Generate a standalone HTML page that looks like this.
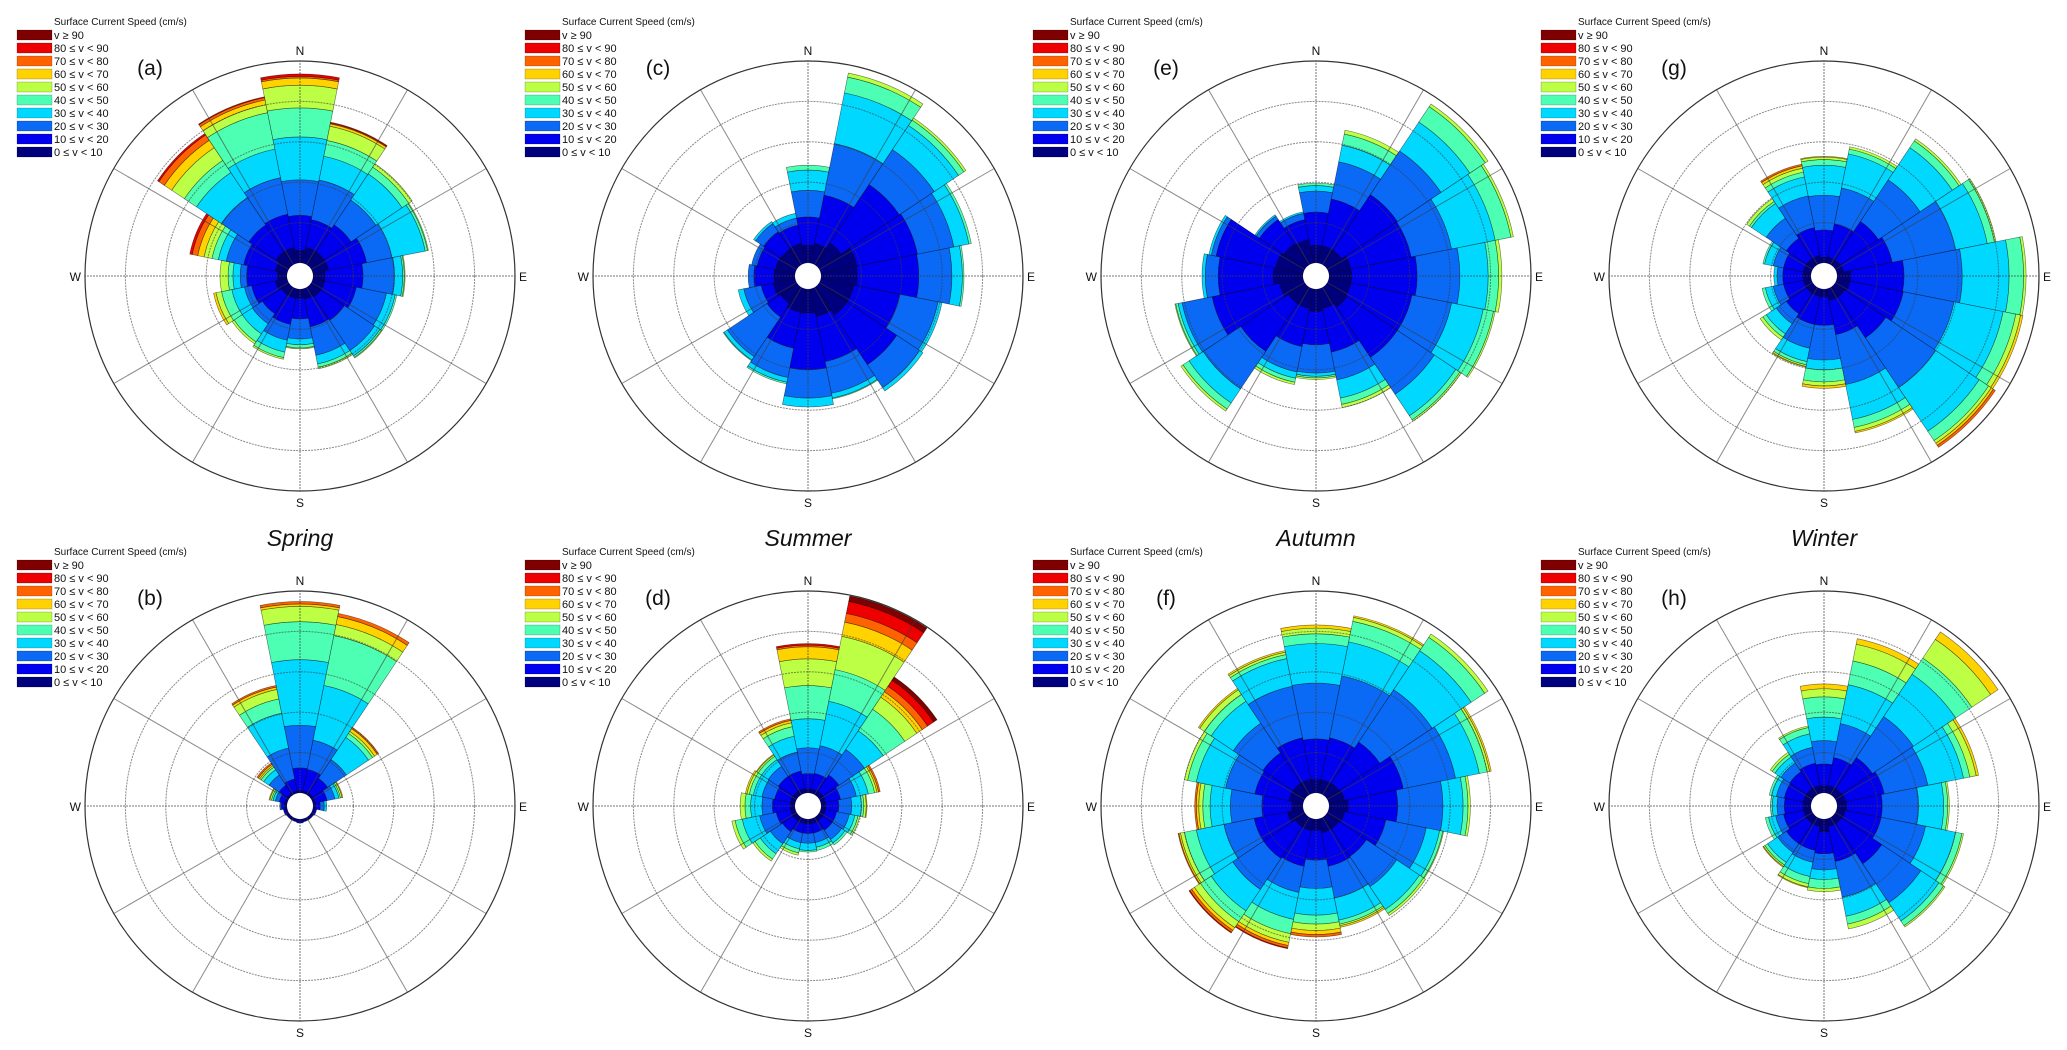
<!DOCTYPE html>
<html><head><meta charset="utf-8">
<style>
html,body{margin:0;padding:0;background:#fff;}
svg{display:block;}
text{font-family:"Liberation Sans",sans-serif;}
</style></head>
<body>
<svg id="fig" width="2067" height="1050" viewBox="0 0 2067 1050" xmlns="http://www.w3.org/2000/svg"></svg>
<script>
// Speed classes (low to high) and colours
const speedClasses = ["0 \u2264 v < 10","10 \u2264 v < 20","20 \u2264 v < 30","30 \u2264 v < 40","40 \u2264 v < 50","50 \u2264 v < 60","60 \u2264 v < 70","70 \u2264 v < 80","80 \u2264 v < 90","v \u2265 90"];
const classColors = ["#00007f","#0000ee","#0a6af5","#00d8ff","#4cffb2","#bcff44","#ffd200","#ff6200","#ee0000","#7f0000"];
const directions = ["N","NNE","NE","ENE","E","ESE","SE","SSE","S","SSW","SW","WSW","W","WNW","NW","NNW"];
const ringTicks = [5,10,15,20,25];
const panelLabels = ["(a)","(b)","(c)","(d)","(e)","(f)","(g)","(h)"];
const seasonTitles = ["Spring","Summer","Autumn","Winter"];
// cumulative frequency (%) per direction, per speed class
const panelA = [[1.6,5.9,10.3,15.6,19.2,22,22.9,23.1,23.4],[2,5.5,10.5,13.5,15.5,17.3,17.6,17.7,17.8],[2,6,9.7,13.6,14.6,15.1],[2,6.8,10,14.2,14.5,14.6],[1.5,6.2,10.1,11.1,11.3,11.4],[1.5,5.5,9.3,10.4,10.6],[1.5,5,9.5,10.3,10.5,10.6],[1.3,4.8,8.4,9.5,9.9,10.1],[1.2,3.7,6.2,6.9,7.3,7.4],[1.2,4.5,6.5,8,8.7,8.9],[1.2,4,5.5,7,8.2,8.5],[1.5,4.5,5.4,7,8.3,9,9.3],[1.2,5,5.8,6.7,7.3,8.3],[1.5,5.5,7.7,8.7,9.5,10.5,11.3,12,12.3],[2,6,10.1,13.8,15.6,17.5,18.6,19.4,19.6],[2,6.2,10.8,14.4,19,20,20.6,20.9,21]];
const panelB = [[0.3,3.1,8.4,16.5,21.2,23.1,23.4,23.7],[0.3,3,6.7,13.6,19.9,21.3,22.3,22.7],[0.3,2.5,5.3,8.6,9.2,9.5,9.9,10.1],[0.3,1.8,2.8,3.3,3.5,3.7,3.8],[0.3,0.9,1.4,1.7],[0.3,0.5],[0.3,0.4],[0.3,0.4],[0.3,0.5],[0.3,0.4],[0.3,0.4],[0.3,0.5],[0.3,0.7,0.9],[0.3,1,1.5,1.8,2,2.2,2.3],[0.3,1.5,3,3.8,4.2,4.4,4.6,4.8],[0.3,1.8,5.7,10.1,11.9,13.1,13.4,13.6]];
const panelC = [[2.2,5.7,9,11.5,12.1],[2.5,8.6,15.1,21.5,23.5,24],[3.3,12,17.2,20.8,21.6,21.9],[4.6,12.2,16.8,18.7,19],[4.5,12.1,16.2,17.5,17.7],[4.2,10,14.8,15.3],[4.2,11.6,15,15.5],[3.5,9.2,13.2,13.8,13.9],[3,10,13.5,14.6],[3,7.5,11.2,11.8,12],[2.5,4.5,10.4,10.9,11],[2.8,4.3,6.5,7.2],[2.6,5.1,5.8],[2.5,4.8,5.5],[2.4,5,6.2,6.5],[2.5,4.8,5.7,6.3]];
const panelD = [[0.5,2.4,5.6,9.2,13.3,16.6,18.1,18.3,18.5],[0.5,2.5,6,11.6,15.6,19.8,21.6,22.7,24.2,24.9],[0.6,3,6.8,9.6,12.8,14.6,15.4,16.2,17.1,17.6],[0.6,2.5,4.5,6,6.8,7.1,7.3,7.5],[0.6,2.2,3.8,5,5.3,5.6,5.7],[0.6,2,3.6,4.3,4.7,4.9],[0.6,2,3.4,3.9,4.2],[0.6,1.8,3,3.6,4],[0.6,1.8,3,3.9,4.1],[0.6,1.8,3,3.8,4.3,4.6],[0.6,2.2,4,5.5,6.3,6.6],[0.6,2.4,4.5,6.7,7.6,8],[0.6,2.8,4.1,5.5,6.2,6.8],[0.6,2.6,4.2,5.3,5.8,6.1,6.3],[0.6,2.8,4.3,5.3,5.8,6,6.1],[0.6,2.8,5.2,7.2,8.4,8.9,9.2,9.4]];
const panelE = [[2.2,6.3,8.9,9.6,9.9],[2.2,8.1,12.8,14.9,16.3,16.8],[2.2,10.5,17,21.3,23.6,24],[2.8,10.4,15.5,21,23,23.3],[2.8,10.9,16.2,19.7,21,21.4],[2.8,10.5,15.5,19.5,20.8,21],[3,10.5,16,19.2,19.8,20],[2.5,8,11.5,13.8,14.6,15],[2.8,6.9,10.4,10.8,11,11.2],[2.5,7.3,10.5,11.3,11.8,12.1],[2.5,9.6,15.2,17.3,18.2,18.5],[3,11.5,15.3,15.8,16.1,16.2],[3.7,10.5,12.1,12.5],[3.5,11,11.6,11.9],[3.2,6.8,7.3,7.5],[3,5.5,6.3,6.5]];
const panelF = [[1.7,6.7,13.6,18.5,19.7,20.4,20.8],[1.7,7,14.8,19.1,21.7,22.2,22.4],[1.8,7.9,15.7,21.5,23.5,24],[2,9.4,16,19,20,20.3,20.5],[2.4,8.5,14.1,16.6,17.2,17.5],[2,7.2,12.3,14,14.4,14.5],[1.8,5.9,10.4,13.8,14.4,14.7],[1.8,6,10,12.8,13.3,13.5,13.7],[1.4,5.1,8.6,11.9,13,13.8,14.3,14.6],[1.5,6,9.3,12.7,14.5,15.6,16,16.3,16.4],[1.5,6.2,10.8,14,15.6,16.5,16.9,17.2,17.3],[2,6.2,10,13.5,15,15.5,15.7,15.8],[1.4,5.1,9,11.5,12.4,12.9,13.2,13.4],[1.8,6.1,9.8,13.5,14.6,15],[1.8,6.3,10.7,14,15,15.7,15.9],[1.8,7,13.5,17,17.5,17.8,18]];
const panelG = [[0.7,4.1,8.4,12.1,12.8,13.1,13.2],[0.8,5,9.5,13.8,14.4,14.7],[0.8,6.5,12.7,17.5,18.5,18.8],[0.9,7,15,19,19.9,20.1],[1.7,8.3,15.5,21.3,23.1,23.4],[1.7,8.4,14.8,21,22.6,23.2,23.5],[1.5,7.6,15,21.5,22.9,23.3,23.6,23.9],[1.5,5.8,12.1,16.5,17.5,18,18.2],[1,4.5,8.8,10,11.5,12,12.3],[1,4.5,7.5,9.2,9.6,9.8,9.9],[1,4,5.5,7,7.5,7.9],[1,3.5,4.8,5.8,6.2],[1,3.5,4.2,4.6],[1,3.5,4.8,5.9,6.1],[1,4,7,9.2,9.5,9.9],[1,4.5,8.5,10.9,11.5,12,12.3,12.5]];
const panelH = [[0.9,3.6,6.5,9.4,11.9,12.9,13.5],[1,4.5,8.8,13.7,16.7,18.8,19.5],[1,5.6,11.7,18,20.4,23.2,24.3],[1.1,6,11.5,16,16.8,17.6,17.9],[1.2,5.6,10.1,13.2,13.7,13.9],[1.1,5.6,11.2,15,15.8,16],[1,7,12.8,15.5,16.2,16.4],[1,5.4,9.9,12.3,13.3,13.9],[1.6,4.3,6.3,7.5,8.6,9],[1,4,5.5,7.3,8.2,8.6,8.7],[1,4,5.3,6.8,7.2,7.4,7.5],[1,3.5,4.5,5.4,5.8],[1,3.3,4.2,4.8,5],[1,3.4,4.4,5,5.3],[1,3.5,4.8,5.7,6.1,6.4],[1,3.8,5.8,7.5,8.3,8.5]];

const NS = "http://www.w3.org/2000/svg";
const svg = document.getElementById('fig');
const R0 = 13, R = 215, VMAX = 25;
function rScale(v){ return R0 + (R - R0) * v / VMAX; }
function mk(tag, attrs, parent){ const e = document.createElementNS(NS, tag); for (const k in attrs) e.setAttribute(k, attrs[k]); (parent||svg).appendChild(e); return e; }
function pt(cx, cy, r, deg){ const a = deg*Math.PI/180; return [cx + r*Math.sin(a), cy - r*Math.cos(a)]; }
function sectorPath(cx, cy, r1, r2, a1, a2){
  const p1 = pt(cx,cy,r2,a1), p2 = pt(cx,cy,r2,a2), p3 = pt(cx,cy,r1,a2), p4 = pt(cx,cy,r1,a1);
  return `M${p1[0]},${p1[1]} A${r2},${r2} 0 0 1 ${p2[0]},${p2[1]} L${p3[0]},${p3[1]} A${r1},${r1} 0 0 0 ${p4[0]},${p4[1]} Z`;
}

const panels = [
  {data: panelA, cx: 300, cy: 276, label: 0},
  {data: panelC, cx: 808, cy: 276, label: 2},
  {data: panelE, cx: 1316, cy: 276, label: 4},
  {data: panelG, cx: 1824, cy: 276, label: 6},
  {data: panelB, cx: 300, cy: 806, label: 1, title: 0},
  {data: panelD, cx: 808, cy: 806, label: 3, title: 1},
  {data: panelF, cx: 1316, cy: 806, label: 5, title: 2},
  {data: panelH, cx: 1824, cy: 806, label: 7, title: 3}
];

panels.forEach(p => {
  const g = mk('g', {});
  
  
  const cx = p.cx, cy = p.cy;
  // bars
  const half = 11.25;
  p.data.forEach((cum, di) => {
    const a1 = di*22.5 - half, a2 = di*22.5 + half;
    let prev = 0;
    cum.forEach((v, k) => {
      if (v <= prev) return;
      const path = mk('path', {d: sectorPath(cx, cy, rScale(prev), rScale(v), a1, a2), fill: classColors[k], stroke: 'rgba(0,0,0,0.55)', 'stroke-width': 0.6}, g);
      
      
      prev = v;
    });
  });
  // grid
  ringTicks.forEach((t, i) => {
    const last = i === ringTicks.length - 1;
    const c = mk('circle', {cx, cy, r: rScale(t), fill: 'none', stroke: last ? '#333' : 'rgba(60,60,60,0.6)', 'stroke-width': last ? 1.2 : 1, 'stroke-dasharray': last ? 'none' : '2,1'}, g);
    
    
  });
  for (let a = 0; a < 360; a += 30) {
    const p1 = pt(cx, cy, R0, a), p2 = pt(cx, cy, R, a);
    const ax = (a % 90 === 0);
    const l = mk('line', {x1: p1[0], y1: p1[1], x2: p2[0], y2: p2[1], stroke: ax ? 'rgba(60,60,60,0.7)' : 'rgba(60,60,60,0.6)', 'stroke-width': 1, 'stroke-dasharray': ax ? '2,1' : 'none'}, g);
    
    
  }
  const hole = mk('circle', {cx, cy, r: R0, fill: '#fff', stroke: 'none'}, g);
  
  
  // compass labels
  [['N', cx, cy - R - 6, 'middle'], ['S', cx, cy + R + 16, 'middle'], ['W', cx - R - 4, cy + 5, 'end'], ['E', cx + R + 4, cy + 5, 'start']].forEach(c => {
    const t = mk('text', {x: c[1], y: c[2], 'font-size': 12, 'text-anchor': c[3], fill: '#111'}, g);
    t.textContent = c[0];
    
    
  });
  const pl = mk('text', {x: cx - 150, y: cy - 201, 'font-size': 21, 'text-anchor': 'middle', fill: '#111'}, g);
  pl.textContent = panelLabels[p.label];
  
  
  if (p.title !== undefined) {
    const st = mk('text', {x: cx, y: cy - 260, 'font-size': 23, 'font-style': 'italic', 'text-anchor': 'middle', fill: '#111'}, g);
    st.textContent = seasonTitles[p.title];
    
    
  }
  // legend
  const lg = mk('g', {}, g);
  
  
  const lx = cx - 284, ly = cy - 254;
  const lt = mk('text', {x: lx + 38, y: ly + 3, 'font-size': 10, fill: '#111'}, lg);
  lt.textContent = 'Surface Current Speed (cm/s)';
  
  
  for (let i = 0; i < 10; i++) {
    const k = 9 - i;
    const yy = ly + 8 + i * 13;
    const sw = mk('rect', {x: lx + 1, y: yy, width: 35, height: 10, fill: classColors[k], stroke: 'rgba(0,0,0,0.3)', 'stroke-width': 0.6}, lg);
    
    
    const tx = mk('text', {x: lx + 38, y: yy + 9, 'font-size': 11, fill: '#111'}, lg);
    tx.textContent = speedClasses[k];
    
    
  }
});
</script>
</body></html>
